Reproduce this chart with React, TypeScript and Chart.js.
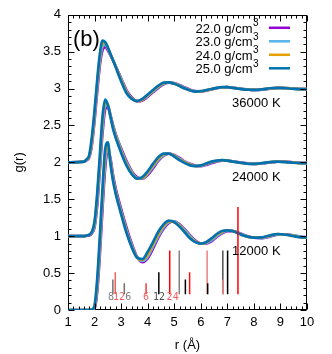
import React, { useEffect, useRef } from 'react';
import { Chart, registerables } from 'chart.js';

Chart.register(...registerables);

// ---------- data ----------
const R = [1.0, 1.6, 1.7, 1.8, 1.9, 2.0, 2.1, 2.2, 2.3, 2.4, 2.5, 2.6, 2.7, 2.8, 2.9, 3.0, 3.2, 3.4, 3.6, 3.8, 4.0, 4.2, 4.4, 4.6, 4.8, 5.0, 5.2, 5.4, 5.6, 5.8, 6.0, 6.2, 6.4, 6.6, 6.8, 7.0, 7.2, 7.4, 7.6, 7.8, 8.0, 8.3, 8.6, 8.9, 9.2, 9.5, 9.8, 10.0];

const DENSITIES = ['22.0', '23.0', '24.0', '25.0'];
const TEMPS = ['12000 K', '24000 K', '36000 K'];
const OFFSETS = [0, 1, 2];

// 12000 K
const G12_22 = [0, 0, 0, 0, 0, 0.02, 0.25, 0.75, 1.38, 1.92, 2.17, 2.05, 1.82, 1.64, 1.5, 1.37, 1.12, 0.9, 0.72, 0.65, 0.7, 0.83, 0.98, 1.1, 1.18, 1.2, 1.16, 1.09, 1.01, 0.94, 0.9, 0.9, 0.93, 0.99, 1.04, 1.07, 1.07, 1.05, 1.02, 0.995, 0.98, 0.975, 0.995, 1.02, 1.025, 1.01, 0.99, 0.985];
const G12_23 = [0, 0, 0, 0, 0, 0.03, 0.3, 0.83, 1.47, 2.0, 2.21, 2.03, 1.79, 1.61, 1.47, 1.34, 1.09, 0.88, 0.715, 0.665, 0.72, 0.86, 1.0, 1.12, 1.19, 1.2, 1.15, 1.08, 1.0, 0.93, 0.9, 0.905, 0.945, 1.0, 1.05, 1.075, 1.07, 1.05, 1.015, 0.99, 0.98, 0.975, 1.0, 1.025, 1.02, 1.01, 0.99, 0.985];
const G12_24 = [0, 0, 0, 0, 0, 0.05, 0.36, 0.92, 1.56, 2.09, 2.25, 2.0, 1.76, 1.59, 1.45, 1.32, 1.07, 0.86, 0.71, 0.68, 0.75, 0.89, 1.03, 1.14, 1.2, 1.19, 1.14, 1.06, 0.98, 0.925, 0.9, 0.915, 0.96, 1.02, 1.06, 1.08, 1.07, 1.045, 1.01, 0.99, 0.98, 0.98, 1.005, 1.03, 1.02, 1.005, 0.985, 0.985];
const G12_25 = [0, 0, 0, 0, 0.005, 0.06, 0.42, 1.0, 1.65, 2.18, 2.27, 1.98, 1.74, 1.57, 1.43, 1.3, 1.05, 0.85, 0.71, 0.69, 0.79, 0.92, 1.06, 1.16, 1.21, 1.19, 1.13, 1.05, 0.97, 0.92, 0.9, 0.92, 0.97, 1.03, 1.07, 1.08, 1.07, 1.04, 1.01, 0.99, 0.98, 0.985, 1.01, 1.03, 1.02, 1.0, 0.985, 0.985];

// 24000 K
const G24_22 = [0, 0, 0.005, 0.01, 0.04, 0.12, 0.42, 0.9, 1.4, 1.72, 1.76, 1.64, 1.5, 1.38, 1.28, 1.19, 1.02, 0.88, 0.8, 0.78, 0.83, 0.92, 1.02, 1.09, 1.12, 1.1, 1.06, 1.01, 0.98, 0.955, 0.95, 0.965, 0.99, 1.01, 1.025, 1.025, 1.015, 1.005, 0.995, 0.985, 0.98, 0.985, 1.0, 1.01, 1.01, 1.0, 0.99, 0.99];
const G24_23 = [0, 0, 0.01, 0.015, 0.045, 0.14, 0.47, 0.96, 1.47, 1.77, 1.77, 1.63, 1.49, 1.37, 1.27, 1.17, 1.0, 0.87, 0.79, 0.785, 0.845, 0.94, 1.035, 1.1, 1.12, 1.095, 1.05, 1.005, 0.975, 0.952, 0.952, 0.972, 0.998, 1.015, 1.027, 1.025, 1.013, 1.002, 0.992, 0.983, 0.98, 0.986, 1.002, 1.01, 1.008, 0.998, 0.99, 0.99];
const G24_24 = [0, 0, 0.01, 0.02, 0.055, 0.17, 0.53, 1.03, 1.55, 1.81, 1.78, 1.62, 1.47, 1.35, 1.25, 1.15, 0.98, 0.855, 0.785, 0.79, 0.86, 0.96, 1.05, 1.11, 1.12, 1.09, 1.04, 1.0, 0.97, 0.95, 0.955, 0.98, 1.005, 1.02, 1.03, 1.025, 1.012, 1.0, 0.99, 0.982, 0.98, 0.988, 1.003, 1.01, 1.007, 0.997, 0.99, 0.99];
const G24_25 = [0, 0, 0.01, 0.02, 0.06, 0.2, 0.58, 1.1, 1.62, 1.85, 1.78, 1.62, 1.45, 1.33, 1.23, 1.13, 0.96, 0.84, 0.78, 0.8, 0.88, 0.98, 1.07, 1.12, 1.12, 1.08, 1.03, 0.99, 0.96, 0.95, 0.96, 0.985, 1.01, 1.025, 1.03, 1.025, 1.01, 1.0, 0.99, 0.98, 0.98, 0.99, 1.005, 1.01, 1.005, 0.995, 0.99, 0.99];

// 36000 K
const G36_22 = [0, 0.01, 0.03, 0.07, 0.24, 0.57, 0.96, 1.32, 1.52, 1.56, 1.52, 1.45, 1.38, 1.3, 1.22, 1.14, 0.98, 0.88, 0.83, 0.84, 0.89, 0.95, 1.01, 1.06, 1.08, 1.075, 1.05, 1.015, 0.985, 0.965, 0.96, 0.972, 0.99, 1.005, 1.015, 1.02, 1.013, 1.003, 0.993, 0.986, 0.982, 0.985, 1.0, 1.01, 1.008, 1.0, 0.994, 0.993];
const G36_23 = [0, 0.01, 0.035, 0.08, 0.27, 0.62, 1.02, 1.37, 1.57, 1.6, 1.54, 1.46, 1.38, 1.3, 1.21, 1.13, 0.965, 0.87, 0.83, 0.847, 0.9, 0.96, 1.02, 1.067, 1.082, 1.072, 1.045, 1.01, 0.982, 0.963, 0.962, 0.975, 0.991, 1.006, 1.016, 1.02, 1.012, 1.002, 0.992, 0.985, 0.982, 0.986, 1.001, 1.01, 1.007, 0.999, 0.994, 0.993];
const G36_24 = [0, 0.01, 0.04, 0.09, 0.29, 0.66, 1.07, 1.42, 1.62, 1.62, 1.55, 1.465, 1.38, 1.295, 1.2, 1.115, 0.955, 0.865, 0.83, 0.853, 0.91, 0.97, 1.03, 1.073, 1.083, 1.068, 1.04, 1.005, 0.978, 0.962, 0.963, 0.977, 0.993, 1.008, 1.018, 1.02, 1.011, 1.001, 0.991, 0.985, 0.982, 0.988, 1.003, 1.01, 1.006, 0.998, 0.993, 0.993];
const G36_25 = [0, 0.01, 0.04, 0.1, 0.35, 0.7, 1.12, 1.47, 1.65, 1.63, 1.56, 1.47, 1.38, 1.29, 1.19, 1.1, 0.94, 0.86, 0.83, 0.86, 0.92, 0.98, 1.04, 1.08, 1.085, 1.065, 1.035, 1.0, 0.975, 0.96, 0.965, 0.98, 0.995, 1.01, 1.02, 1.02, 1.01, 1.0, 0.99, 0.985, 0.982, 0.99, 1.005, 1.01, 1.005, 0.997, 0.993, 0.993];

const CURVES = [
  [G12_22, G12_23, G12_24, G12_25],
  [G24_22, G24_23, G24_24, G24_25],
  [G36_22, G36_23, G36_24, G36_25],
];

// neighbour shells (bcc in black, fcc in red)
const BCC_R = [2.69, 3.12, 4.42, 5.19, 5.42, 6.26, 6.83, 7.01];
const BCC_N = [8, 6, 12, 24, 8, 6, 24, 24];
const FCC_R = [2.78, 3.94, 4.83, 5.58, 6.24, 6.83, 7.40];
const FCC_N = [12, 6, 24, 12, 24, 8, 48];
const STICK_BASE = 0.215;
const STICK_PER_NEIGHBOUR = 0.0246;

const SHELL_LABELS = ['8', '12', '6', '6', '12', '24'];
const SHELL_LABEL_R = [2.62, 2.92, 3.27, 3.94, 4.43, 4.94];
const SHELL_LABEL_G = 0.17;

const X_TICKS = [1, 2, 3, 4, 5, 6, 7, 8, 9, 10];
const Y_TICKS = [0, 0.5, 1, 1.5, 2, 2.5, 3, 3.5, 4];

const TEMP_LABEL_R = 7.18;
const TEMP_LABEL_G = 0.8;

// ---------- styles ----------
const COLORS = ['#9400d3', '#56b4e9', '#e69f00', '#0072b2'];
const BCC_COLORS = ['#707070', '#707070', '#000000', '#808080', '#000000', '#000000', '#505050', '#000000'];
const FCC_COLORS = ['#f06060', '#f03c3c', '#ff0000', '#ff1010', '#f08080', '#f08080', '#ff0000'];
const SHELL_LABEL_COLORS = ['#808080', '#f06060', '#808080', '#f06060', '#505050', '#f06060'];
const FONT = '"Liberation Sans", Arial, Helvetica, sans-serif';

const decorPlugin = {
  id: 'decor',
  beforeDatasetsDraw(chart: any) {
    const { ctx, chartArea: a } = chart;
    ctx.save();
    ctx.strokeStyle = '#000';
    ctx.lineWidth = 1;
    ctx.strokeRect(Math.round(a.left) + 0.5, Math.round(a.top) + 0.5, Math.round(a.right - a.left) - 1, Math.round(a.bottom - a.top) - 1);
    ctx.restore();
  },
  afterDatasetsDraw(chart: any) {
    const { ctx, chartArea: a, scales } = chart;
    const xs = scales.x;
    const ys = scales.y;
    ctx.save();
    ctx.strokeStyle = '#000';
    ctx.lineWidth = 1;
    ctx.beginPath();
    const L = Math.round(a.left) + 0.5;
    const Rr = Math.round(a.right) - 0.5;
    const T = Math.round(a.top) + 0.5;
    const B = Math.round(a.bottom) - 0.5;
    for (let k = 0; k <= 45; k++) {
      const v = X_TICKS[0] + k * 0.2;
      const len = k % 5 === 0 ? 6 : 3;
      const px = Math.round(xs.getPixelForValue(v)) + 0.5;
      ctx.moveTo(px, B); ctx.lineTo(px, B - len);
      ctx.moveTo(px, T); ctx.lineTo(px, T + len);
    }
    for (let k = 0; k <= 40; k++) {
      const v = Y_TICKS[0] + k * 0.1;
      const len = k % 5 === 0 ? 6 : 3;
      const py = Math.round(ys.getPixelForValue(v)) + 0.5;
      ctx.moveTo(L, py); ctx.lineTo(L + len, py);
      ctx.moveTo(Rr, py); ctx.lineTo(Rr - len, py);
    }
    ctx.stroke();

    // shell labels
    ctx.font = '10px "DejaVu Sans Mono", monospace';
    ctx.textAlign = 'center';
    ctx.textBaseline = 'middle';
    SHELL_LABELS.forEach((t, i) => {
      ctx.fillStyle = SHELL_LABEL_COLORS[i];
      ctx.fillText(t, xs.getPixelForValue(SHELL_LABEL_R[i]), ys.getPixelForValue(SHELL_LABEL_G));
    });

    // temperature labels
    ctx.font = '13px ' + FONT;
    ctx.fillStyle = '#000';
    ctx.textAlign = 'left';
    TEMPS.forEach((t, i) => {
      ctx.fillText(t, xs.getPixelForValue(TEMP_LABEL_R), ys.getPixelForValue(TEMP_LABEL_G + OFFSETS[i]));
    });

    // panel label
    ctx.font = '22px ' + FONT;
    ctx.fillText('(b)', a.left + 5, a.top + 25);

    // legend
    DENSITIES.forEach((d, i) => {
      const yy = a.top + 14 + i * 13.5;
      ctx.font = '13px ' + FONT;
      ctx.textAlign = 'right';
      ctx.fillStyle = '#000';
      ctx.fillText(d + ' g/cm', a.right - 54.5, yy + 0.5);
      ctx.font = '10px ' + FONT;
      ctx.textAlign = 'left';
      ctx.fillText('3', a.right - 54, yy - 5.5);
      ctx.strokeStyle = COLORS[i];
      ctx.lineWidth = 2.5;
      ctx.beginPath();
      ctx.moveTo(a.right - 38, yy - 1);
      ctx.lineTo(a.right - 17, yy - 1);
      ctx.stroke();
    });
    ctx.restore();
  },
};

export default function App() {
  const ref = useRef<HTMLCanvasElement | null>(null);
  useEffect(() => {
    if (!ref.current) return;
    const datasets: any[] = [];

    const sticks = [
      ...BCC_R.map((r, i) => ({ r, n: BCC_N[i], c: BCC_COLORS[i], k: 0 })),
      ...FCC_R.map((r, i) => ({ r, n: FCC_N[i], c: FCC_COLORS[i], k: 1 })),
    ].sort((p, q) => p.r - q.r || p.k - q.k);

    datasets.push({
      type: 'bar',
      data: sticks.map((s) => ({ x: s.r, y: [STICK_BASE, STICK_BASE + s.n * STICK_PER_NEIGHBOUR] })),
      backgroundColor: sticks.map((s) => s.c),
      borderWidth: 0,
      barThickness: 1.5,
      inflateAmount: 0,
      grouped: false,
      order: 0,
    });

    CURVES.forEach((set, t) => {
      set.forEach((g, d) => {
        datasets.push({
          type: 'line',
          label: DENSITIES[d] + ' g/cm3 ' + TEMPS[t],
          data: R.map((r, i) => ({ x: r, y: g[i] + OFFSETS[t] })),
          borderColor: COLORS[d],
          borderWidth: 2.7,
          pointRadius: 0,
          fill: false,
          cubicInterpolationMode: 'monotone',
          order: 4 - d,
        });
      });
    });

    const chart = new Chart(ref.current, {
      type: 'line',
      data: { datasets },
      options: {
        animation: false,
        responsive: false,
        devicePixelRatio: 1,
        layout: { padding: { left: 0, right: 25, top: 12, bottom: 0 } },
        plugins: { legend: { display: false }, tooltip: { enabled: false } },
        events: [],
        scales: {
          x: {
            type: 'linear',
            min: X_TICKS[0],
            max: X_TICKS[X_TICKS.length - 1],
            offset: false,
            grid: { display: false, drawTicks: false },
            border: { display: false },
            ticks: { stepSize: 1, padding: 5, color: '#000', font: { size: 13, family: FONT }, maxRotation: 0, callback: (v: any) => String(+v) },
            title: { display: true, text: 'r (Å)', color: '#000', font: { size: 13, family: FONT }, padding: { top: 0, bottom: 1 } },
            afterFit: (s: any) => { s.height = 44; },
          },
          y: {
            type: 'linear',
            min: Y_TICKS[0],
            max: Y_TICKS[Y_TICKS.length - 1],
            grid: { display: false, drawTicks: false },
            border: { display: false },
            ticks: { stepSize: 0.5, padding: 7, color: '#000', font: { size: 13, family: FONT }, callback: (v: any) => String(+(+v).toFixed(2)) },
            title: { display: true, text: 'g(r)', color: '#000', font: { size: 13, family: FONT }, padding: { top: 12, bottom: 0 } },
            afterFit: (s: any) => { s.width = 68; },
          },
        },
      },
      plugins: [decorPlugin],
    } as any);
    return () => chart.destroy();
  }, []);

  return (
    <div style={{ position: 'absolute', left: 0, top: 0, width: 332, height: 354, background: '#fff' }}>
      <canvas ref={ref} width={332} height={354} style={{ width: 332, height: 354, display: 'block' }} />
    </div>
  );
}
